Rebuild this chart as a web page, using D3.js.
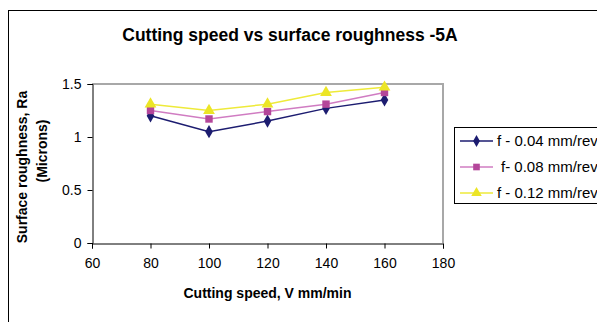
<!DOCTYPE html>
<html>
<head>
<meta charset="utf-8">
<script src="https://cdn.jsdelivr.net/npm/d3@7"></script>
<style>
  body { margin: 0; background: #fff; }
  svg { display: block; font-family: "Liberation Sans", Arial, sans-serif; }
</style>
</head>
<body>
<div id="chart"></div>
<script>
const speeds = [80, 100, 120, 140, 160];
const feed004 = [1.2, 1.05, 1.15, 1.27, 1.35];
const feed008 = [1.25, 1.17, 1.24, 1.31, 1.42];
const feed012 = [1.31, 1.25, 1.31, 1.42, 1.47];
const seriesNames = ['f - 0.04 mm/rev', 'f- 0.08 mm/rev', 'f - 0.12 mm/rev'];
const xTicks = [60, 80, 100, 120, 140, 160, 180];
const yTicks = [0, 0.5, 1, 1.5];

const width = 597, height = 322;
const plot = {left: 92, right: 443, top: 84, bottom: 243};

const svg = d3.select('#chart').append('svg')
  .attr('width', width)
  .attr('height', height);

// outer chart frame
svg.append('rect')
  .attr('x', 8.5).attr('y', 10.5)
  .attr('width', 620).attr('height', 340)
  .attr('fill', 'none').attr('stroke', '#000');

const x = d3.scaleLinear().domain([60, 180]).range([plot.left, plot.right]);
const y = d3.scaleLinear().domain([0, 1.5]).range([plot.bottom, plot.top]);

// plot area border (top/right in grey)
svg.append('path')
  .attr('d', `M${plot.left},${plot.top}H${plot.right}V${plot.bottom}`)
  .attr('fill', 'none').attr('stroke', '#a8a8a8').attr('stroke-width', 2);

const xAxis = svg.append('g')
  .attr('transform', `translate(0,${plot.bottom + 0.5})`)
  .call(d3.axisBottom(x).tickValues(xTicks).tickSize(5).tickPadding(10));
const yAxis = svg.append('g')
  .attr('transform', `translate(${plot.left + 0.5},0)`)
  .call(d3.axisLeft(y).tickValues(yTicks).tickSize(5).tickPadding(6).tickFormat(d3.format('')));
[xAxis, yAxis].forEach(a => {
  a.selectAll('text').attr('font-size', 14).attr('fill', '#000')
    .attr('font-family', '"Liberation Sans", Arial, sans-serif');
  a.select('.domain').attr('stroke', '#000');
});

const series = [
  {name: seriesNames[0], values: feed004, line: '#1c1c70', fill: '#1c1c70', shape: d3.symbolDiamond, size: 50},
  {name: seriesNames[1], values: feed008, line: '#d07cc2', fill: '#b4469a', shape: d3.symbolSquare, size: 55},
  {name: seriesNames[2], values: feed012, line: '#eeea3a', fill: '#ece526', shape: d3.symbolTriangle, size: 60}
];

const line = d3.line().x((d, i) => x(speeds[i])).y(d => y(d));

series.forEach(s => {
  svg.append('path')
    .datum(s.values)
    .attr('d', line)
    .attr('fill', 'none')
    .attr('stroke', s.line)
    .attr('stroke-width', 1.5);
  svg.append('g').selectAll('path')
    .data(s.values)
    .enter()
    .append('path')
    .attr('transform', (d, i) => `translate(${x(speeds[i])},${y(d)})`)
    .attr('d', d3.symbol().type(s.shape).size(s.size))
    .attr('fill', s.fill);
});

// title
svg.append('text')
  .attr('x', 290).attr('y', 41)
  .attr('text-anchor', 'middle')
  .attr('font-size', 17.5).attr('font-weight', 'bold')
  .text('Cutting speed vs surface roughness -5A');

// axis titles
svg.append('text')
  .attr('x', 267.5).attr('y', 298)
  .attr('text-anchor', 'middle')
  .attr('font-size', 14).attr('font-weight', 'bold')
  .text('Cutting speed, V mm/min');

svg.append('text')
  .attr('transform', 'translate(27,167) rotate(-90)')
  .attr('text-anchor', 'middle')
  .attr('font-size', 14).attr('font-weight', 'bold')
  .text('Surface roughness, Ra');
svg.append('text')
  .attr('transform', 'translate(47,151) rotate(-90)')
  .attr('text-anchor', 'middle')
  .attr('font-size', 14).attr('font-weight', 'bold')
  .text('(Microns)');

// legend
const legend = svg.append('g');
legend.append('rect')
  .attr('x', 454.5).attr('y', 127.5)
  .attr('width', 200).attr('height', 76)
  .attr('fill', '#fff').attr('stroke', '#000');

const rows = legend.selectAll('g.row')
  .data(series)
  .enter()
  .append('g')
  .attr('class', 'row')
  .attr('transform', (d, i) => `translate(0,${141 + i * 26})`);
rows.append('line')
  .attr('x1', 460).attr('x2', 493)
  .attr('stroke', d => d.line).attr('stroke-width', 1.5);
rows.append('path')
  .attr('transform', 'translate(476.5,0)')
  .attr('d', d => d3.symbol().type(d.shape).size(d.size * 0.8)())
  .attr('fill', d => d.fill);
rows.append('text')
  .attr('x', (d, i) => i === 1 ? 501 : 497)
  .attr('dy', '0.35em')
  .attr('font-size', 15)
  .text(d => d.name);
</script>
</body>
</html>
